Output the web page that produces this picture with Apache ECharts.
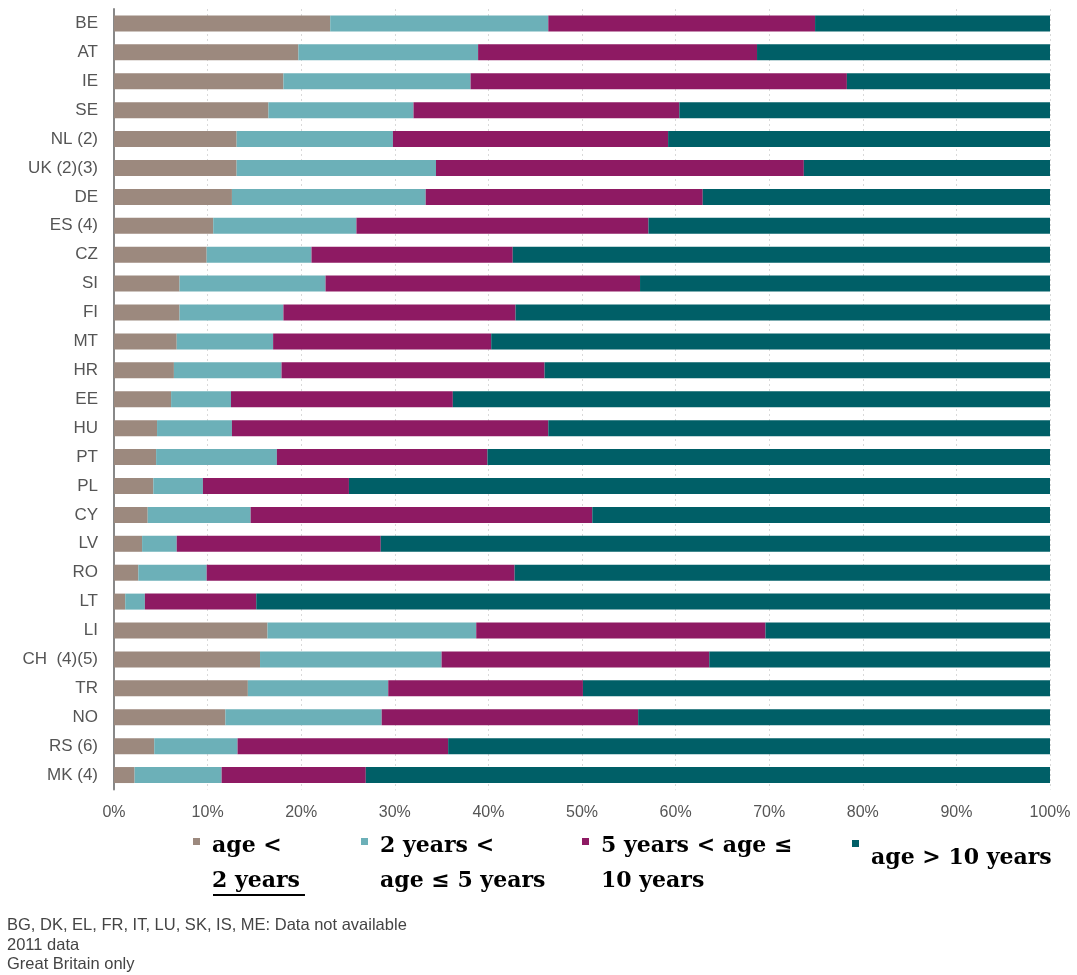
<!DOCTYPE html>
<html>
<head>
<meta charset="utf-8">
<script src="https://cdn.jsdelivr.net/npm/echarts@6/dist/echarts.min.js"></script>
<style>
html,body{margin:0;padding:0;background:#fff;}
#chart{width:1077px;height:975px;}
</style>
</head>
<body>
<div id="chart"></div>
<script>
const categories = ["BE","AT","IE","SE","NL (2)","UK (2)(3)","DE","ES (4)","CZ","SI","FI","MT","HR","EE","HU","PT","PL","CY","LV","RO","LT","LI","CH  (4)(5)","TR","NO","RS (6)","MK (4)"];
const ageUnder2 = [23.1,19.7,18.1,16.5,13.1,13.1,12.6,10.6,9.9,7.0,7.0,6.7,6.4,6.1,4.6,4.5,4.2,3.6,3.0,2.6,1.2,16.4,15.6,14.3,11.9,4.3,2.2];
const age2to5 = [23.3,19.2,20.0,15.5,16.7,21.3,20.7,15.3,11.2,15.6,11.1,10.3,11.5,6.4,8.0,12.9,5.3,11.0,3.7,7.3,2.1,22.3,19.4,15.0,16.7,8.9,9.3];
const age5to10 = [28.5,29.8,40.2,28.4,29.4,39.3,29.6,31.2,21.5,33.6,24.8,23.3,28.1,23.7,33.8,22.5,15.6,36.5,21.8,32.9,11.9,30.9,28.6,20.8,27.4,22.5,15.4];
const ageOver10 = [25.1,31.3,21.7,39.6,40.8,26.3,37.1,42.9,57.4,43.8,57.1,59.7,54.0,63.8,53.6,60.1,74.9,48.9,71.5,57.2,84.8,30.4,36.4,49.9,44.0,64.3,73.1];
const seriesNames = ["age < 2 years","2 years < age ≤ 5 years","5 years < age ≤ 10 years","age > 10 years"];
const legendTexts = ["age <\n2 years","2 years <\nage ≤ 5 years","5 years < age ≤\n10 years","age > 10 years"];
const xTickLabels = ["0%","10%","20%","30%","40%","50%","60%","70%","80%","90%","100%"];
const footnotes = ["BG, DK, EL, FR, IT, LU, SK, IS, ME: Data not available","2011 data","Great Britain only"];

const colors = ["#9c897e","#6cb0b8","#8e1a63","#005f67"];
const legendFont = 'bold 22px "DejaVu Serif"';

const chart = echarts.init(document.getElementById('chart'), null, {renderer:'canvas'});

const values = [ageUnder2, age2to5, age5to10, ageOver10];
const series = seriesNames.map((n,i)=>({
  name:n, type:'bar', stack:'total', data:values[i], barWidth:16,
  itemStyle:{color:colors[i]}, emphasis:{disabled:true}, animation:false
}));

const legendLeft = [193, 361, 582, 852];
const legendTop = [784.5, 784.5, 784.5, 811.5];
const legends = seriesNames.map((n,i)=>({
  data:[n], left:legendLeft[i], top:legendTop[i], padding:0,
  icon:'rect', itemWidth:7, itemHeight:7,
  selectedMode:false,
  formatter:()=>'{s| }\n' + legendTexts[i].split('\n').map(l=>'{t|'+l+'}').join('\n'),
  textStyle:{fontFamily:'DejaVu Serif', fontWeight:'bold', fontSize:22, lineHeight:35, color:'#000',
    padding:[0,0,0,7],
    rich:{
      s:{fontSize:4, lineHeight: i<3 ? 44 : 29},
      t:{fontFamily:'DejaVu Serif', fontWeight:'bold', fontSize:22, lineHeight:35, color:'#000'}
    }}
}));

// underline width for "2 years"
const cv = document.createElement('canvas').getContext('2d');
cv.font = legendFont;
const ulW = cv.measureText("2 years").width;

chart.setOption({
  animation:false,
  backgroundColor:'#fff',
  grid:{left:114, right:27, top:9, bottom:185.5, containLabel:false},
  xAxis:{type:'value', min:0, max:100, interval:10,
    axisLine:{show:false}, axisTick:{show:false},
    splitLine:{show:true, lineStyle:{color:'#d9d9d9', type:[2,3], width:1}},
    axisLabel:{margin:15, fontSize:16, color:'#555', fontFamily:'Liberation Sans',
      formatter:(v)=>xTickLabels[Math.round(v/10)]}
  },
  yAxis:{type:'category', data:categories, inverse:true,
    axisLine:{show:true, lineStyle:{color:'#888', width:2}},
    axisTick:{show:false},
    axisLabel:{margin:16, fontSize:17, color:'#555', fontFamily:'Liberation Sans'}
  },
  legend:legends,
  series:series,
  graphic:[
    {type:'line', shape:{x1:213, y1:895, x2:213+ulW+4, y2:895}, style:{stroke:'#000', lineWidth:2}, silent:true},
    {type:'group', left:7, top:917, children: footnotes.map((t,i)=>({
      type:'text', x:0, y:i*19.5,
      style:{text:t, fill:'#444', font:'16.5px "Liberation Sans"'}
    }))}
  ]
});
</script>
</body>
</html>
